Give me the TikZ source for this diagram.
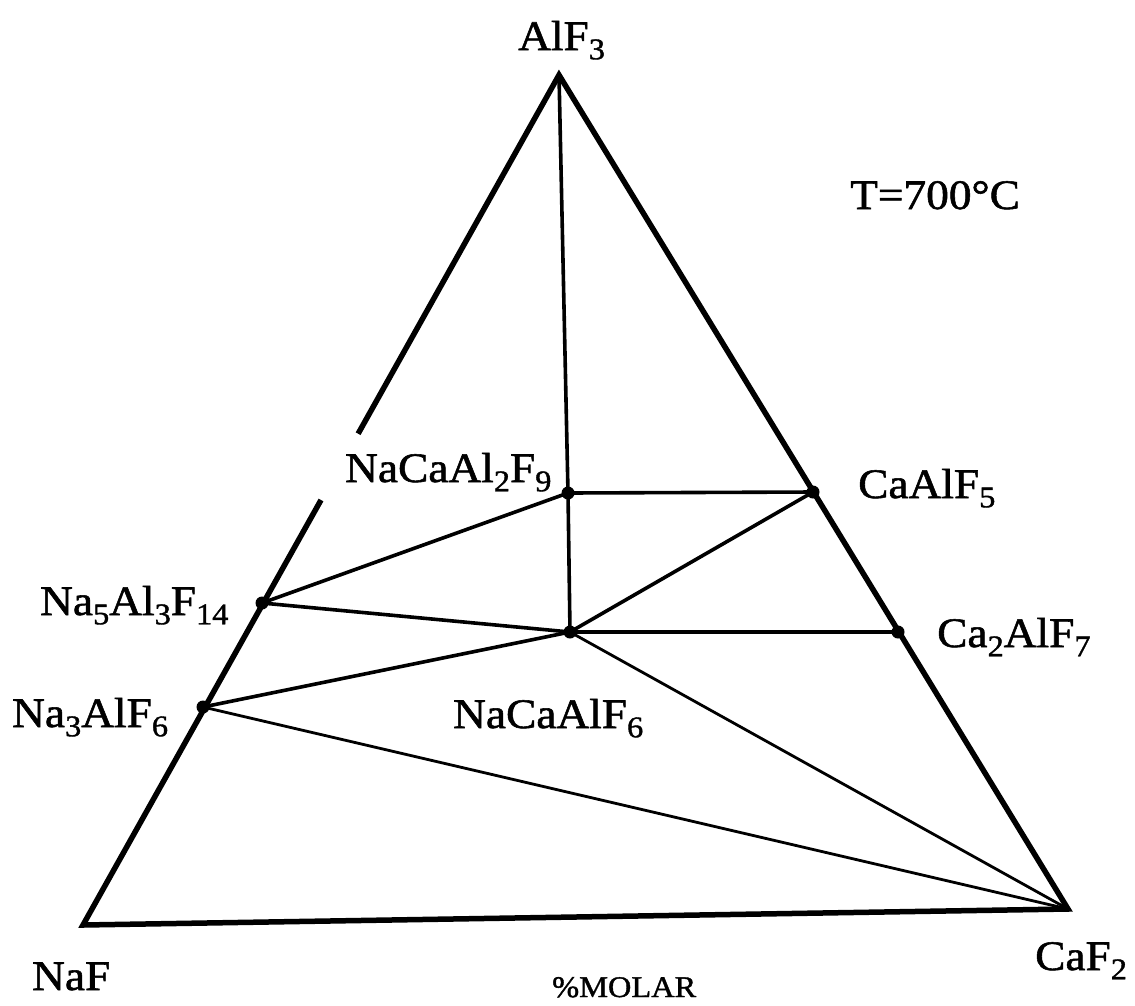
\documentclass[tikz,border=0pt]{standalone}
\usepackage{fontspec}
\setmainfont[FakeStretch=1.08,FakeBold=1.3]{Liberation Serif}
\usetikzlibrary{calc}
\newcommand\sbs[1]{\raisebox{-0.22em}{\fontsize{30}{30}\selectfont #1}}
\begin{document}
\begin{tikzpicture}[x=1pt,y=-1pt,
  edge/.style={line width=5.5pt,line join=miter,line cap=butt},
  tie/.style={line width=3.6pt},
  thin tie/.style={line width=2.8pt},
  dot/.style={circle,fill=black,inner sep=0pt,minimum size=13pt},
  lbl/.style={anchor=base west,inner sep=0pt,font=\fontsize{42}{42}\selectfont},
  small lbl/.style={anchor=base west,inner sep=0pt,font=\fontsize{30}{30}\selectfont}]
\useasboundingbox[fill=white] (0,0) rectangle (1135,1005);
% corners
\coordinate (A) at (559,75);
\coordinate (N) at (83,925);
\coordinate (C) at (1068,909);
\coordinate (g1) at ($(A)!0.422!(N)$);
\coordinate (g2) at ($(A)!0.5!(N)$);
% compound points
\node[dot] (p9) at (568,493) {};
\node[dot] (p5) at (813,492) {};
\node[dot] (p14) at (262,603) {};
\node[dot] (p6) at (570,632) {};
\node[dot] (p7) at (898,632) {};
\node[dot] (p3) at (203,707) {};
% triangle
\draw[edge] (g1) -- (A) -- (C) -- (N) -- (g2);
% tie lines
\draw[tie] (A) -- (p9.center);
\draw[tie] (p9.center) -- (p6.center);
\draw[tie] (p9.center) -- (p5.center);
\draw[tie] (p9.center) -- (p14.center);
\draw[tie] (p14.center) -- (p6.center);
\draw[tie] (p5.center) -- (p6.center);
\draw[tie] (p6.center) -- (p7.center);
\draw[tie] (p6.center) -- (p3.center);
\draw[thin tie] (p6.center) -- (C);
\draw[thin tie] (p3.center) -- (C);
% labels
\node[lbl] (lA) at (518,50) {AlF\sbs{3}};
\node[lbl] (lT) at (850,209) {T=700°C};
\node[lbl] (l9) at (345,482) {NaCaAl\sbs{2}F\sbs{9}};
\node[lbl] (l5) at (858,498) {CaAlF\sbs{5}};
\node[lbl] (l14) at (40,615) {Na\sbs{5}Al\sbs{3}F\sbs{14}};
\node[lbl] (l7) at (937,647) {Ca\sbs{2}AlF\sbs{7}};
\node[lbl] (l3) at (12,727) {Na\sbs{3}AlF\sbs{6}};
\node[lbl] (l6) at (453,728) {NaCaAlF\sbs{6}};
\node[lbl] (lN) at (32,990) {NaF};
\node[lbl] (lC) at (1035,970) {CaF\sbs{2}};
\node[small lbl] (lM) at (552,997) {\%MOLAR};
\end{tikzpicture}
\end{document}
